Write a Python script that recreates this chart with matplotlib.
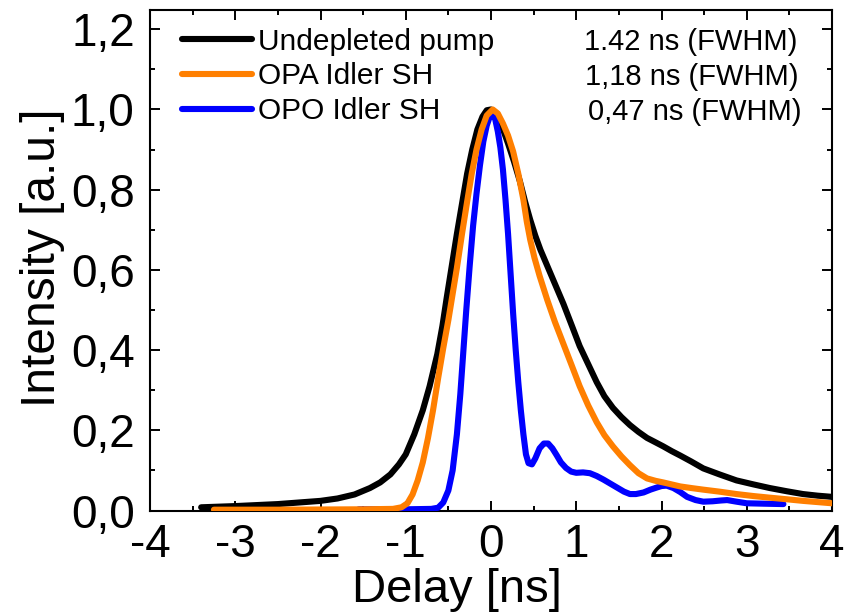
import matplotlib
matplotlib.use("Agg")
import matplotlib.pyplot as plt
from matplotlib.ticker import MultipleLocator

# ---- data ----
pump_x = [-3.4, -3.0, -2.5, -2.0, -1.8, -1.6, -1.42, -1.3, -1.18, -1.08, -1.0, -0.9, -0.8,
          -0.72, -0.63, -0.57, -0.52, -0.46, -0.4, -0.34, -0.28, -0.22, -0.16, -0.1, -0.05,
          0.0, 0.05, 0.1, 0.15, 0.2, 0.27, 0.34, 0.4, 0.46, 0.52, 0.58, 0.66, 0.75, 0.85,
          0.95, 1.04, 1.14, 1.24, 1.33, 1.43, 1.53, 1.63, 1.73, 1.83, 1.93, 2.02, 2.12, 2.22,
          2.35, 2.49, 2.68, 2.88, 3.08, 3.27, 3.47, 3.66, 3.83, 4.0]
pump_y = [0.008, 0.011, 0.016, 0.024, 0.03, 0.04, 0.056, 0.07, 0.09, 0.115, 0.14, 0.19, 0.25,
          0.31, 0.39, 0.46, 0.53, 0.61, 0.69, 0.765, 0.84, 0.9, 0.95, 0.982, 0.998,
          1.0, 0.99, 0.97, 0.945, 0.915, 0.87, 0.82, 0.77, 0.725, 0.685, 0.65, 0.61, 0.565, 0.515,
          0.46, 0.41, 0.365, 0.32, 0.285, 0.256, 0.233, 0.213, 0.196, 0.181, 0.17, 0.16, 0.148,
          0.137, 0.122, 0.105, 0.09, 0.075, 0.065, 0.056, 0.048, 0.041, 0.037, 0.034]

opa_x = [-3.25, -2.5, -1.5, -1.15, -1.05, -0.98, -0.92, -0.86, -0.8, -0.74, -0.68, -0.62,
         -0.56, -0.5, -0.45, -0.4, -0.34, -0.28, -0.226, -0.17, -0.11, -0.05, 0.02, 0.08,
         0.14, 0.2, 0.26, 0.32, 0.38, 0.42, 0.46, 0.51, 0.57, 0.66, 0.75, 0.85, 0.95, 1.04,
         1.14, 1.24, 1.33, 1.43, 1.53, 1.63, 1.73, 1.83, 1.93, 2.02, 2.12, 2.22, 2.35, 2.49,
         2.68, 2.88, 3.08, 3.27, 3.47, 3.66, 3.83, 4.0]
opa_y = [0.002, 0.002, 0.003, 0.004, 0.008, 0.018, 0.04, 0.075, 0.12, 0.18, 0.25, 0.33,
         0.405, 0.475, 0.54, 0.605, 0.69, 0.77, 0.84, 0.9, 0.95, 0.985, 1.0, 0.99,
         0.965, 0.935, 0.895, 0.84, 0.775, 0.72, 0.675, 0.63, 0.585, 0.525, 0.47, 0.415, 0.36,
         0.31, 0.262, 0.22, 0.188, 0.16, 0.135, 0.113, 0.093, 0.08, 0.074, 0.07, 0.065, 0.06,
         0.056, 0.052, 0.047, 0.041, 0.036, 0.032, 0.028, 0.024, 0.021, 0.018]

opo_x = [-1.55, -1.0, -0.7, -0.62, -0.56, -0.5, -0.45, -0.4, -0.36, -0.33, -0.29, -0.25,
         -0.21, -0.17, -0.13, -0.09, -0.05, -0.01, 0.02, 0.05, 0.08, 0.11, 0.14, 0.17, 0.2,
         0.23, 0.26, 0.29, 0.32, 0.35, 0.38, 0.41, 0.44, 0.48, 0.52, 0.57, 0.62, 0.67, 0.72,
         0.77, 0.82, 0.88, 0.94, 1.0, 1.08, 1.16, 1.24, 1.32, 1.4, 1.48, 1.56, 1.63, 1.7,
         1.79, 1.87, 1.94, 2.0, 2.06, 2.14, 2.22, 2.3, 2.4, 2.49, 2.6, 2.7, 2.77, 2.88, 3.0,
         3.2, 3.43]
opo_y = [0.003, 0.003, 0.004, 0.007, 0.02, 0.05, 0.1, 0.19, 0.29, 0.38, 0.5, 0.61,
         0.71, 0.79, 0.86, 0.92, 0.96, 0.985, 0.99, 0.975, 0.945, 0.905, 0.85, 0.775, 0.69,
         0.59, 0.49, 0.4, 0.32, 0.25, 0.19, 0.14, 0.118, 0.115, 0.13, 0.155, 0.167, 0.167, 0.155,
         0.138, 0.12, 0.106, 0.097, 0.094, 0.095, 0.093, 0.086, 0.077, 0.067, 0.057, 0.047,
         0.041, 0.041, 0.045, 0.052, 0.057, 0.061, 0.062, 0.056, 0.046, 0.034, 0.026, 0.022,
         0.023, 0.025, 0.026, 0.022, 0.018, 0.017, 0.016]

series_labels = ["Undepleted pump", "OPA Idler SH", "OPO Idler SH"]
fwhm_labels = ["1.42 ns (FWHM)", "1,18 ns (FWHM)", "0,47 ns (FWHM)"]
colors = ["#000000", "#FF7F00", "#0000FF"]

x_ticks = [-4, -3, -2, -1, 0, 1, 2, 3, 4]
x_ticklabels = ["-4", "-3", "-2", "-1", "0", "1", "2", "3", "4"]
y_ticks = [0.0, 0.2, 0.4, 0.6, 0.8, 1.0, 1.2]
y_ticklabels = ["0,0", "0,2", "0,4", "0,6", "0,8", "1,0", "1,2"]

# ---- style ----
plt.rcParams['font.family'] = ['Liberation Sans', 'DejaVu Sans']

fig = plt.figure(figsize=(8.51, 6.12), dpi=100)
ax = fig.add_axes([150/851, 1-510.5/612, 682/851, 500.5/612])

lw = 4.4
kw = dict(lw=lw, solid_capstyle='round', solid_joinstyle='round')
l_pump, = ax.plot(pump_x, pump_y, color=colors[0], zorder=3, **kw)
l_opo, = ax.plot(opo_x, opo_y, color=colors[2], zorder=4, **kw)
l_opa, = ax.plot(opa_x, opa_y, color=colors[1], zorder=5, **kw)

ax.set_xlim(-4, 4)
ax.set_ylim(0, 1.248)
ax.set_xticks(x_ticks)
ax.set_xticklabels(x_ticklabels)
ax.set_yticks(y_ticks)
ax.set_yticklabels(y_ticklabels)
ax.xaxis.set_minor_locator(MultipleLocator(0.5))
ax.yaxis.set_minor_locator(MultipleLocator(0.1))
ax.tick_params(which='both', direction='in', top=True, right=True, width=1.4)
ax.tick_params(which='major', length=7.5, labelsize=33)
ax.tick_params(axis='y', which='major', pad=11)
ax.tick_params(axis='x', which='major', pad=9)
ax.tick_params(which='minor', length=3.8)
for s in ax.spines.values():
    s.set_linewidth(1.5)

ax.set_xlabel("Delay [ns]", fontsize=34)
ax.xaxis.set_label_coords(0.45, -0.114)
ax.set_ylabel("Intensity [a.u.]", fontsize=34.5)
ax.yaxis.set_label_coords(-0.125, 0.504)

leg = ax.legend([l_pump, l_opa, l_opo], series_labels, loc='upper left',
                bbox_to_anchor=(0.02, 1.0), frameon=False, fontsize=21.5,
                handlelength=2.35, handletextpad=0.2, labelspacing=0.22,
                borderaxespad=0.2)
for h in leg.legend_handles:
    h.set_linewidth(lw)

fw_x = [0.949, 0.951, 0.955]
fw_y = [0.936, 0.866, 0.796]
for tx, ty, t in zip(fw_x, fw_y, fwhm_labels):
    ax.text(tx, ty, t, transform=ax.transAxes, ha='right', va='center', fontsize=21)

fig.savefig("out.png", dpi=100)
